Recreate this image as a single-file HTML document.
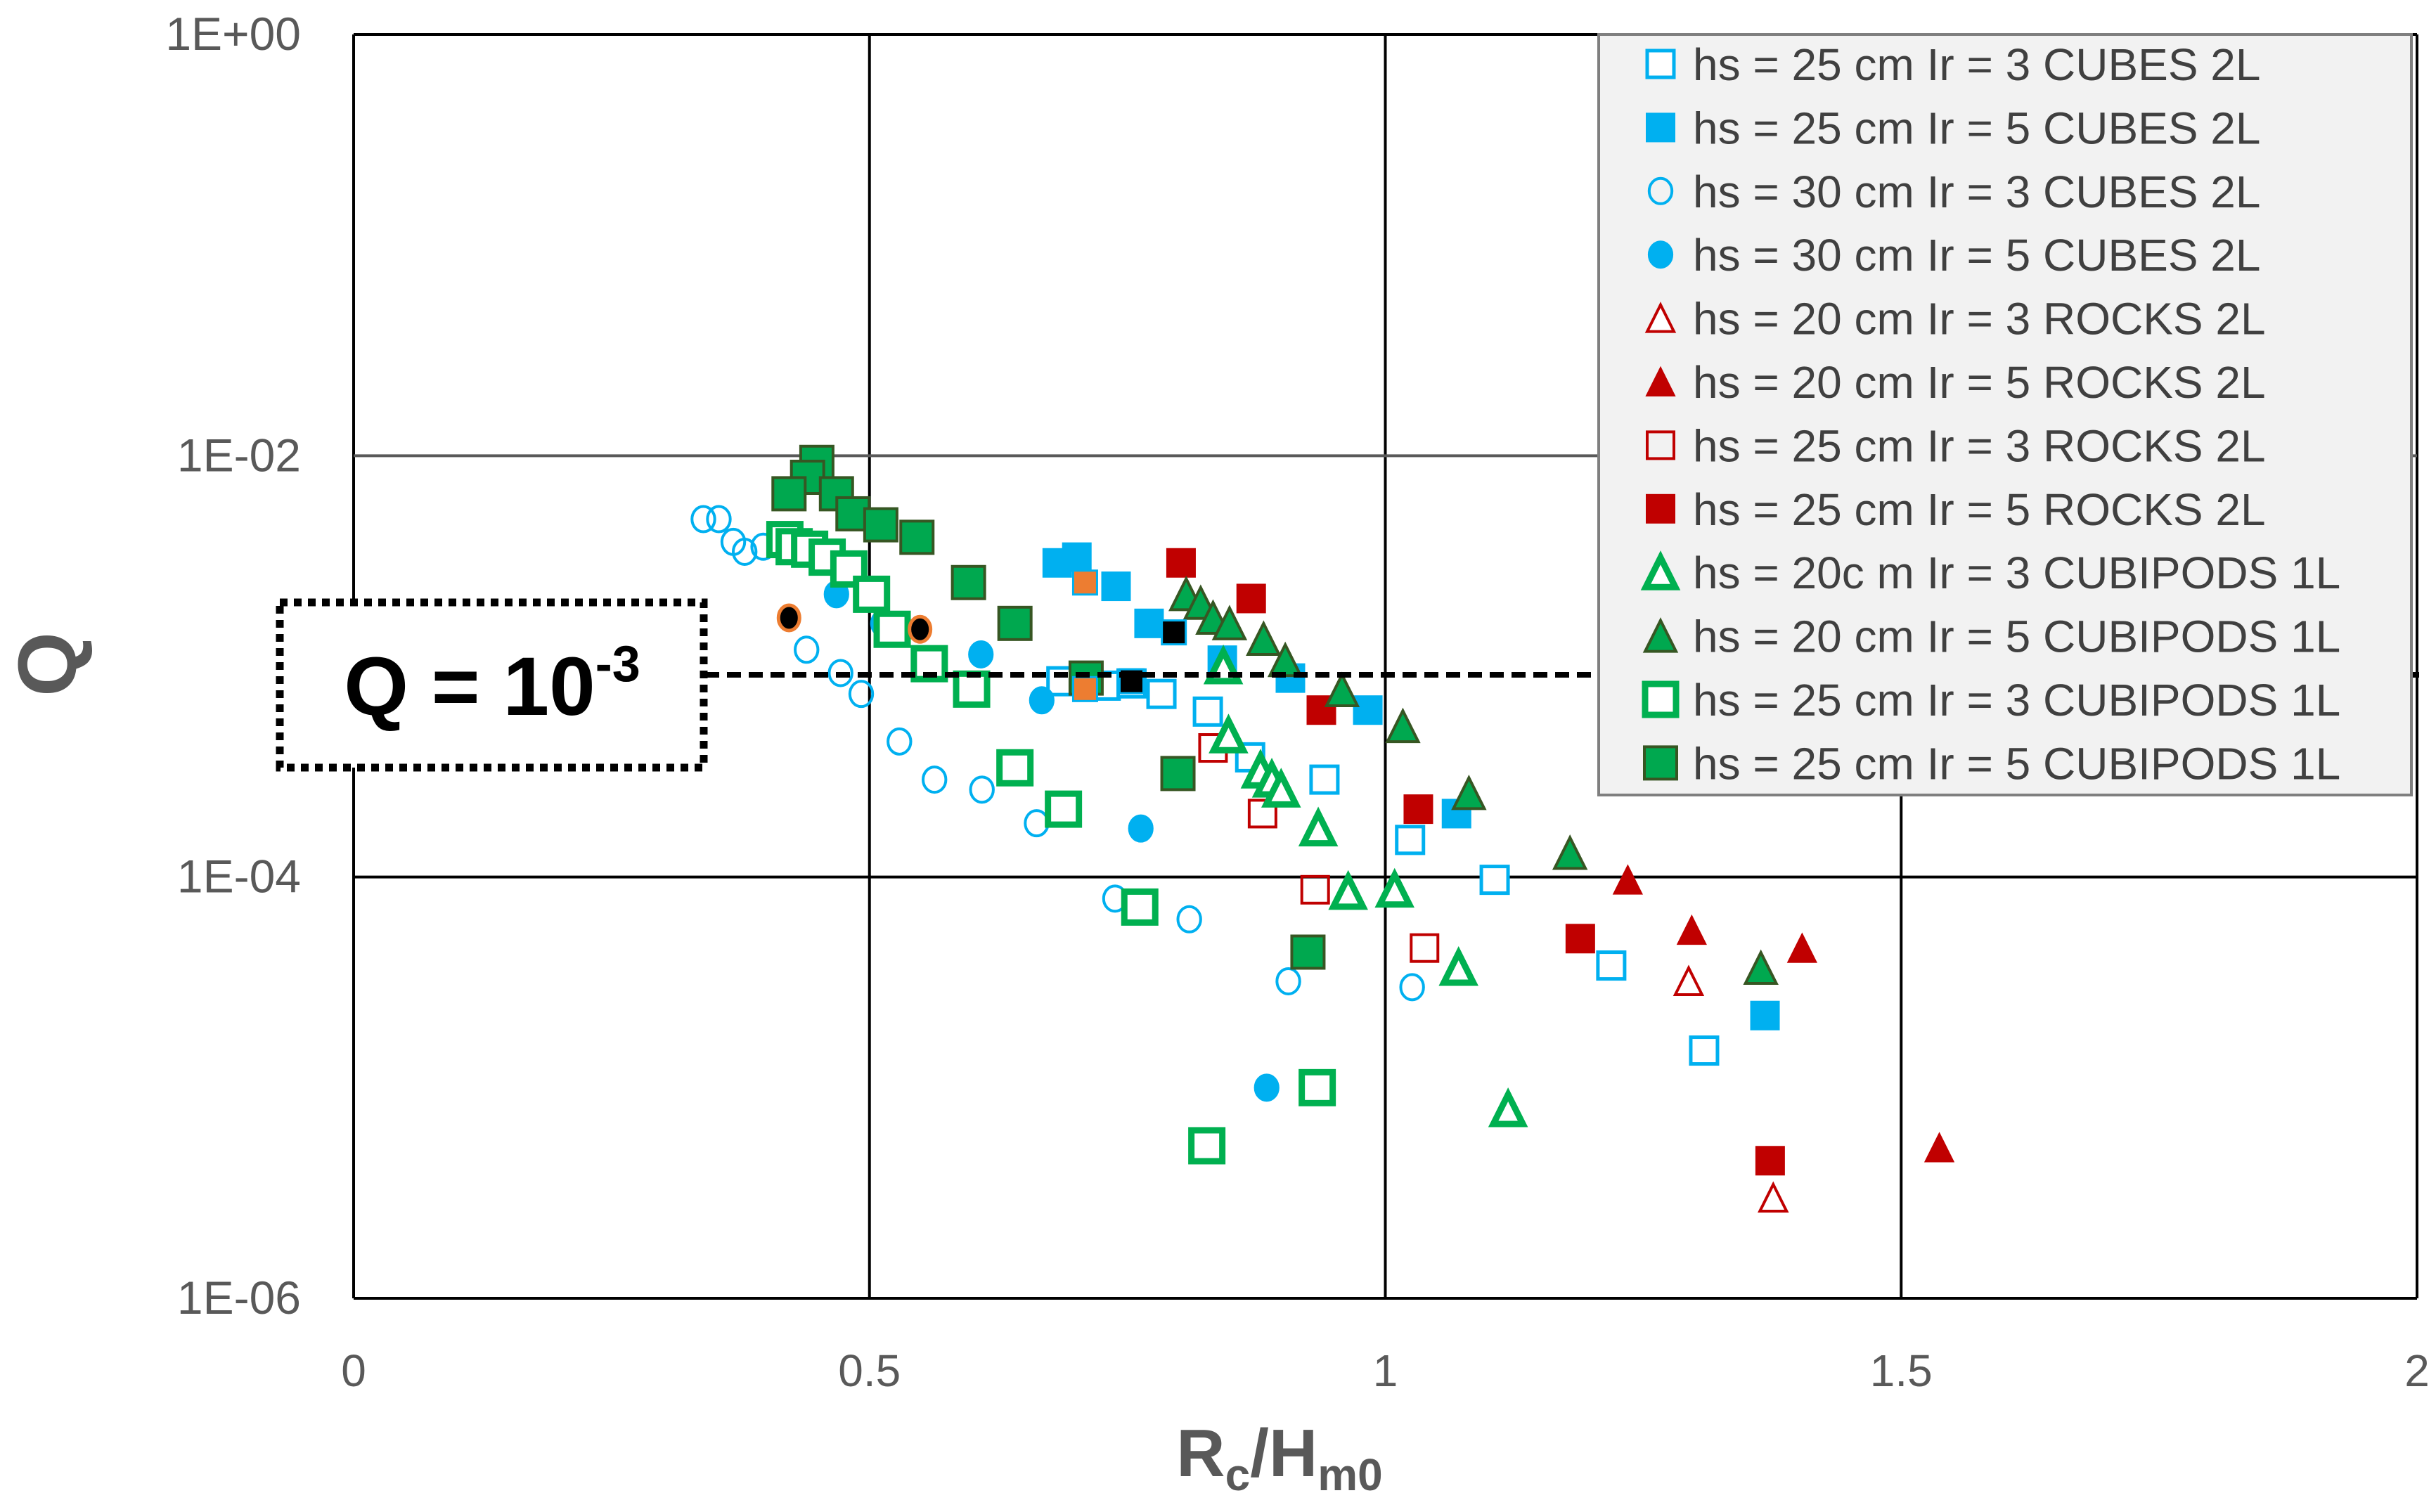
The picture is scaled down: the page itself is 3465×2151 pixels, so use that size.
<!DOCTYPE html>
<html><head><meta charset="utf-8"><style>
html,body{margin:0;padding:0;background:#fff;}
svg{display:block;font-family:"Liberation Sans",sans-serif;}
</style></head><body>
<svg id="chart" width="3465" height="2151" viewBox="0 0 3465 2151" xmlns="http://www.w3.org/2000/svg">
<rect x="0" y="0" width="3465" height="2151" fill="#fff"/>
<g id="grid"></g>
<g id="ticks"></g>
<g id="marks"></g>
<line id="thr" x1="1003" x2="3445" stroke="#000" stroke-width="8" stroke-dasharray="20,11"/>
<g>
<rect x="398" y="857" width="603" height="235" fill="#fff" stroke="#000" stroke-width="11" stroke-dasharray="11,9"/>
<text x="700" y="1017" text-anchor="middle" font-size="118" font-weight="bold" fill="#000">Q = 10<tspan font-size="72" dy="-48">-3</tspan></text>
</g>
<g id="legend"></g>
<text x="0" y="0" transform="translate(108,945) rotate(-90)" text-anchor="middle" font-size="118" font-weight="bold" fill="#595959">Q</text>
<text x="1820" y="2100" text-anchor="middle" font-size="96" font-weight="bold" fill="#595959">R<tspan font-size="64" dy="20">c</tspan><tspan dy="-20">/H</tspan><tspan font-size="64" dy="20">m0</tspan></text>
</svg>
<script>
// ---- data ----
const xTicks = [0, 0.5, 1, 1.5, 2];
const xTickLabels = ["0", "0.5", "1", "1.5", "2"];
const yTicks = [1, 1e-2, 1e-4, 1e-6];
const yTickLabels = ["1E+00", "1E-02", "1E-04", "1E-06"];
const threshold = 1e-3;
const seriesNames = ["hs = 25 cm Ir = 3 CUBES 2L","hs = 25 cm Ir = 5 CUBES 2L","hs = 30 cm Ir = 3 CUBES 2L","hs = 30 cm Ir = 5 CUBES 2L","hs = 20 cm Ir = 3 ROCKS 2L","hs = 20 cm Ir = 5 ROCKS 2L","hs = 25 cm Ir = 3 ROCKS 2L","hs = 25 cm Ir = 5 ROCKS 2L","hs = 20c m Ir = 3 CUBIPODS 1L","hs = 20 cm Ir = 5 CUBIPODS 1L","hs = 25 cm Ir = 3 CUBIPODS 1L","hs = 25 cm Ir = 5 CUBIPODS 1L"];
const s1x = [0.686,0.729,0.754,0.783,0.828,0.869,0.941,1.024,1.106,1.219,1.309];
const s1y = [8.5e-4,8.1e-4,8.3e-4,7.4e-4,6.1e-4,3.7e-4,2.9e-4,1.5e-4,9.7e-5,3.8e-5,1.5e-5];
const s2x = [0.682,0.701,0.739,0.771,0.842,0.908,0.983,1.069,1.368];
const s2y = [3.1e-3,3.3e-3,2.4e-3,1.6e-3,1.07e-3,8.8e-4,6.2e-4,2.0e-4,2.2e-5];
const s3x = [0.339,0.354,0.368,0.379,0.397,0.439,0.472,0.492,0.529,0.563,0.609,0.662,0.738,0.810,0.906,1.026];
const s3y = [5.0e-3,5.0e-3,3.9e-3,3.5e-3,3.7e-3,1.2e-3,9.3e-4,7.4e-4,4.4e-4,2.9e-4,2.6e-4,1.8e-4,7.9e-5,6.3e-5,3.2e-5,3.0e-5];
const s4x = [0.468,0.513,0.608,0.667,0.763,0.885];
const s4y = [2.2e-3,1.6e-3,1.14e-3,6.9e-4,1.7e-4,1.0e-5];
const s5x = [1.294,1.376];
const s5y = [3.2e-5,3.0e-6];
const s6x = [1.235,1.297,1.404,1.537];
const s6y = [9.7e-5,5.6e-5,4.6e-5,5.2e-6];
const s7x = [0.833,0.881,0.932,1.038];
const s7y = [4.1e-4,2.0e-4,8.7e-5,4.6e-5];
const s8x = [0.802,0.870,0.938,1.032,1.189,1.373];
const s8y = [3.1e-3,2.1e-3,6.2e-4,2.1e-4,5.1e-5,4.5e-6];
const s9x = [0.843,0.848,0.879,0.890,0.899,0.935,0.964,1.009,1.071,1.119];
const s9y = [1.0e-3,4.7e-4,3.2e-4,2.9e-4,2.6e-4,1.7e-4,8.5e-5,8.7e-5,3.7e-5,7.9e-6];
const s10x = [0.807,0.821,0.833,0.849,0.882,0.903,0.958,1.017,1.081,1.179,1.364];
const s10y = [2.2e-3,2.0e-3,1.7e-3,1.6e-3,1.35e-3,1.07e-3,7.7e-4,5.2e-4,2.5e-4,1.3e-4,3.7e-5];
const s11x = [0.418,0.427,0.442,0.459,0.480,0.502,0.522,0.558,0.599,0.641,0.688,0.762,0.934,0.827];
const s11y = [4.0e-3,3.7e-3,3.6e-3,3.3e-3,2.9e-3,2.2e-3,1.5e-3,1.03e-3,7.8e-4,3.3e-4,2.1e-4,7.2e-5,1.0e-5,5.3e-6];
const s12x = [0.449,0.440,0.422,0.468,0.484,0.511,0.546,0.596,0.641,0.710,0.799,0.925];
const s12y = [9.3e-3,7.9e-3,6.6e-3,6.6e-3,5.3e-3,4.7e-3,4.1e-3,2.5e-3,1.6e-3,8.8e-4,3.1e-4,4.4e-5];
const hlOrangeSqX = [0.709,0.709];
const hlOrangeSqY = [2.5e-3,7.8e-4];
const hlBlackSqX = [0.795,0.754];
const hlBlackSqY = [1.45e-3,8.5e-4];
const hlBlackDotX = [0.422,0.549];
const hlBlackDotY = [1.7e-3,1.5e-3];

// ---- scales ----
const L=503,R=3438,T=49,B=1847;
function xs(v){return L+v*(R-L)/2;}
function ys(q){return T+(-Math.log10(q))*(B-T)/6;}
const NS="http://www.w3.org/2000/svg";
function mk(tag,attrs,parent){const e=document.createElementNS(NS,tag);for(const k in attrs)e.setAttribute(k,attrs[k]);parent.appendChild(e);return e;}

const grid=document.getElementById('grid');
xTicks.forEach((t,i)=>{
  const l=mk('line',{x1:xs(t),x2:xs(t),y1:T,y2:B,stroke:'#000','stroke-width':4},grid);
  
  
});
yTicks.forEach((t,i)=>{
  const l=mk('line',{x1:L,x2:R,y1:ys(t),y2:ys(t),stroke:(i==1?'#595959':'#000'),'stroke-width':4},grid);
  
  
});
const ticks=document.getElementById('ticks');
xTicks.forEach((t,i)=>{
  const e=mk('text',{x:xs(t),y:1972,'text-anchor':'middle','font-size':64,fill:'#595959'},ticks);
  e.textContent=xTickLabels[i];
  
  
});
yTicks.forEach((t,i)=>{
  const e=mk('text',{x:428,y:ys(t)+22,'text-anchor':'end','font-size':66,fill:'#595959'},ticks);
  e.textContent=yTickLabels[i];
  
  
});
const thr=document.getElementById('thr');
thr.setAttribute('y1',ys(threshold)+12);thr.setAttribute('y2',ys(threshold)+12);

const BLUE='#00b0f0',RED='#c00000',GREEN='#00b050',DGREEN='#00a84f';
const styles=[
 {shape:'sq',fill:'#fff',stroke:BLUE,sw:5,size:38},
 {shape:'sq',fill:BLUE,stroke:BLUE,sw:2,size:40},
 {shape:'ci',fill:'none',stroke:BLUE,sw:4,size:36},
 {shape:'ci',fill:BLUE,stroke:BLUE,sw:2,size:38},
 {shape:'tr',fill:'#fff',stroke:RED,sw:4,size:38},
 {shape:'tr',fill:RED,stroke:RED,sw:2,size:40},
 {shape:'sq',fill:'none',stroke:RED,sw:4,size:38},
 {shape:'sq',fill:RED,stroke:RED,sw:2,size:40},
 {shape:'tr',fill:'#fff',stroke:GREEN,sw:9,size:42},
 {shape:'tr',fill:DGREEN,stroke:'#375623',sw:4,size:44},
 {shape:'sq',fill:'#fff',stroke:GREEN,sw:9,size:44},
 {shape:'sq',fill:DGREEN,stroke:'#375623',sw:4,size:46}
];
const SX=[s1x,s2x,s3x,s4x,s5x,s6x,s7x,s8x,s9x,s10x,s11x,s12x];
const SY=[s1y,s2y,s3y,s4y,s5y,s6y,s7y,s8y,s9y,s10y,s11y,s12y];
function marker(st,cx,cy,parent){
  const s=st.size;let e;
  if(st.shape==='sq') e=mk('rect',{x:cx-s/2,y:cy-s/2,width:s,height:s,fill:st.fill,stroke:st.stroke,'stroke-width':st.sw},parent);
  else if(st.shape==='ci') e=mk('ellipse',{cx:cx,cy:cy,rx:s/2*0.9,ry:s/2,fill:st.fill,stroke:st.stroke,'stroke-width':st.sw},parent);
  else e=mk('polygon',{points:`${cx},${cy-s/2} ${cx+s/2},${cy+s/2} ${cx-s/2},${cy+s/2}`,fill:st.fill,stroke:st.stroke,'stroke-width':st.sw,'stroke-linejoin':'miter'},parent);
  return e;
}
const marks=document.getElementById('marks');
SX.forEach((xa,si)=>{
  const g=mk('g',{},marks);
  
  
  xa.forEach((v,j)=>{
    const e=marker(styles[si],xs(v),ys(SY[si][j]),g);
    
    
  });
});
hlOrangeSqX.forEach((v,j)=>{
  const e=mk('rect',{x:xs(v)-17,y:ys(hlOrangeSqY[j])-17,width:34,height:34,fill:'#ed7d31',stroke:BLUE,'stroke-width':3},marks);
  
  
});
hlBlackSqX.forEach((v,j)=>{
  const e=mk('rect',{x:xs(v)-17,y:ys(hlBlackSqY[j])-17,width:34,height:34,fill:'#000',stroke:BLUE,'stroke-width':3},marks);
  
  
});
hlBlackDotX.forEach((v,j)=>{
  const e=mk('ellipse',{cx:xs(v),cy:ys(hlBlackDotY[j]),rx:15,ry:18,fill:'#000',stroke:'#ed7d31','stroke-width':5},marks);
  
  
});

// legend
const lg=document.getElementById('legend');
const box=mk('rect',{x:2274,y:49,width:1156,height:1082,fill:'#f2f2f2',stroke:'#7f7f7f','stroke-width':4},lg);


seriesNames.forEach((n,i)=>{
  const cy=91+i*90.4;
  const g=mk('g',{},lg);
  
  
  const st=Object.assign({},styles[i]);
  const m=marker(st,2362,cy,g);
  
  
  const t=mk('text',{x:2408,y:cy+23,'font-size':64,fill:'#404040'},g);
  t.textContent=n;
  
  
});
</script>
</body></html>
